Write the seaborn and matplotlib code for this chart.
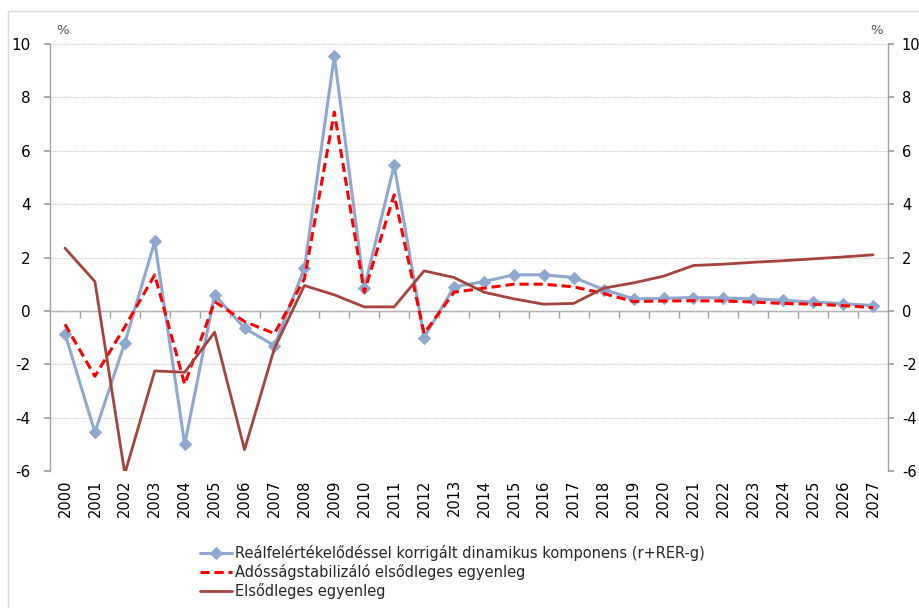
import matplotlib
matplotlib.use("Agg")
import matplotlib.pyplot as plt
import matplotlib.patches as mpatches
import seaborn as sns
import pandas as pd
import numpy as np

years = list(range(2000, 2028))
dinamikus = [-0.85, -4.55, -1.2, 2.6, -5.0, 0.6, -0.65, -1.3, 1.6, 9.55,
             0.85, 5.45, -1.0, 0.9, 1.1, 1.35, 1.35, 1.25, 0.8, 0.45,
             0.47, 0.5, 0.48, 0.45, 0.4, 0.33, 0.27, 0.2]
stabilizalo = [-0.5, -2.45, -0.6, 1.35, -2.75, 0.35, -0.4, -0.85, 1.2, 7.45,
               0.7, 4.35, -0.85, 0.7, 0.85, 1.0, 1.0, 0.9, 0.65, 0.35,
               0.37, 0.38, 0.37, 0.33, 0.28, 0.25, 0.2, 0.12]
elsodleges = [2.35, 1.1, -6.1, -2.25, -2.3, -0.8, -5.2, -1.4, 0.95, 0.6,
              0.15, 0.15, 1.5, 1.25, 0.7, 0.45, 0.25, 0.28, 0.85, 1.05,
              1.3, 1.7, 1.75, 1.82, 1.88, 1.95, 2.02, 2.1]
labels = ["Reálfelértékelődéssel korrigált dinamikus komponens (r+RER-g)",
          "Adósságstabilizáló elsődleges egyenleg",
          "Elsődleges egyenleg"]
yticks = [-6, -4, -2, 0, 2, 4, 6, 8, 10]

sns.set_theme(style="white")
plt.rcParams['font.family'] = ['DejaVu Sans']

fig = plt.figure(figsize=(9.19, 6.08), dpi=100)
ax = fig.add_axes([50/919, 1-471/608, (888-50)/919, (471-44)/608])

df = pd.DataFrame({"year": years, "a": dinamikus, "b": stabilizalo, "c": elsodleges})

sns.lineplot(data=df, x="year", y="a", ax=ax, color="#8FA8D0", lw=2.2,
             marker="D", markersize=6.5, markeredgecolor="#8FA8D0", label=labels[0])
sns.lineplot(data=df, x="year", y="b", ax=ax, color="#FF0000", lw=2.2,
             label=labels[1])
ax.lines[-1].set_dashes((3, 1.6))
sns.lineplot(data=df, x="year", y="c", ax=ax, color="#A5433F", lw=2.0,
             label=labels[2])

ax.set_xlim(years[0]-0.5, years[-1]+0.5)
ax.set_ylim(-6, 10)
ax.set_yticks(yticks)
ax.set_yticklabels([str(v) for v in yticks], fontsize=11, color="#000000")
ax.set_xticks(years)
ax.set_xticklabels([str(y) for y in years], rotation=90, fontsize=10.5, color="#000000")
ax.tick_params(axis="x", length=0, pad=6)
ax.tick_params(axis="y", length=4, direction="out", color="#A0A0A0", left=True, pad=10)
ax.set_xlabel("")
ax.set_ylabel("")

ax.yaxis.grid(True, color="#C8C8C8", linestyle=(0, (1, 1)), lw=0.8)
ax.xaxis.grid(False)
for s in ["top", "bottom", "right"]:
    ax.spines[s].set_visible(False)
ax.spines["left"].set_color("#A0A0A0")
ax.spines["left"].set_linewidth(1)

# zero axis line with between-category ticks
sec = ax.secondary_xaxis(6/16)
sec.set_xticks([y + 0.5 for y in years[:-1]])
sec.set_xticklabels([])
sec.tick_params(axis="x", length=5, direction="out", color="#A0A0A0", width=1)
sec.spines["bottom"].set_color("#A0A0A0")
sec.spines["bottom"].set_linewidth(1)
for s in ["top", "left", "right"]:
    sec.spines[s].set_visible(False)

# right axis
ax2 = ax.twinx()
ax2.set_ylim(-6, 10)
ax2.set_yticks(yticks)
ax2.set_yticklabels([str(v) for v in yticks], fontsize=10.5, color="#000000")
ax2.tick_params(axis="y", length=4, direction="out", color="#A0A0A0", right=True, pad=6)
ax2.grid(False)
for s in ["top", "bottom", "left"]:
    ax2.spines[s].set_visible(False)
ax2.spines["right"].set_color("#A0A0A0")
ax2.spines["right"].set_linewidth(1)

fig.text(63/919, 1-31/608, "%", fontsize=9.5, color="#555555", ha="center", va="center")
fig.text(877/919, 1-31/608, "%", fontsize=9.5, color="#555555", ha="center", va="center")

ax.get_legend().remove()
h, l = ax.get_legend_handles_labels()
fig.legend(h, l, loc="upper left", bbox_to_anchor=(200/919, 1-545/608), frameon=False,
           fontsize=10.5, handlelength=2.2, handletextpad=0.2, labelspacing=0.2,
           borderpad=0, borderaxespad=0)

fig.add_artist(mpatches.Rectangle((8/919, -0.1), 1.2, 1.1-11/608, transform=fig.transFigure,
                                  fill=False, edgecolor="#D9D9D9", lw=1))

fig.savefig("out.png", dpi=100)
